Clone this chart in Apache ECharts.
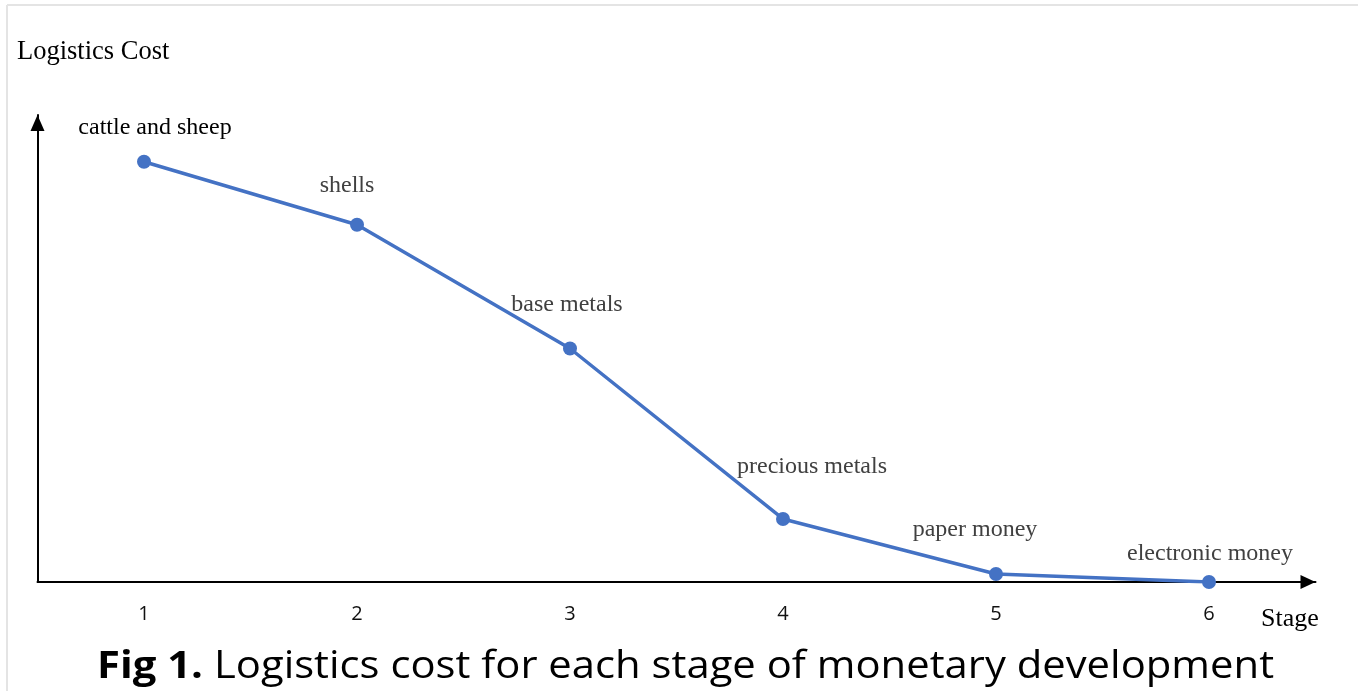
<!DOCTYPE html>
<html>
<head>
<meta charset="utf-8">
<script src="https://cdn.jsdelivr.net/npm/echarts@6/dist/echarts.min.js"></script>
<style>
html,body{margin:0;padding:0;background:#fff;}
#c{width:1358px;height:691px;}
</style>
</head>
<body>
<div id="c"></div>
<script>
// ---- data ----
const stages = ['1', '2', '3', '4', '5', '6'];
const costs = [90, 76.5, 50, 13.5, 1.7, 0];
const stageNames = ['cattle and sheep', 'shells', 'base metals', 'precious metals', 'paper money', 'electronic money'];
const yAxisName = 'Logistics Cost';
const xAxisName = 'Stage';
const figLabel = 'Fig 1.';
const figTitle = 'Logistics cost for each stage of monetary development';

// ---- layout (label offsets relative to points) ----
const labelOffsets = [[11, -34], [-10, -39], [-3, -44], [29, -52], [-21, -44], [1, -28]];
const labelColors = ['#000', '#404040', '#404040', '#404040', '#404040', '#404040'];

const serif = '"Liberation Serif", "Times New Roman", serif';
const sans = '"Open Sans", "Noto Sans", sans-serif';

const chart = echarts.init(document.getElementById('c'), null, {renderer: 'canvas'});
chart.setOption({
  animation: false,
  backgroundColor: '#fff',
  grid: {left: 37.5, width: 1278, top: 115, bottom: 109, containLabel: false},
  xAxis: {
    type: 'category',
    data: stages,
    boundaryGap: true,
    axisLine: {show: true, symbol: ['none', 'triangle'], symbolSize: [14, 15], symbolOffset: [0, -7.5], lineStyle: {color: '#000', width: 2}},
    axisTick: {show: false},
    axisLabel: {color: '#111', fontFamily: sans, fontSize: 20, margin: 22},
    splitLine: {show: false}
  },
  yAxis: {
    type: 'value',
    min: 0, max: 100,
    axisLine: {show: true, symbol: ['none', 'triangle'], symbolSize: [14, 16], symbolOffset: [0, -8], lineStyle: {color: '#000', width: 2}},
    axisTick: {show: false},
    axisLabel: {show: false},
    splitLine: {show: false}
  },
  series: [{
    type: 'line',
    data: costs.map((v, i) => ({
      value: v,
      label: {
        show: true,
        formatter: stageNames[i],
        position: 'inside',
        offset: labelOffsets[i],
        color: labelColors[i],
        fontFamily: serif,
        fontSize: 24
      }
    })),
    symbol: 'circle',
    symbolSize: 14,
    itemStyle: {color: '#4472C4'},
    lineStyle: {color: '#4472C4', width: 3.5},
    z: 3
  }],
  graphic: [
    {type: 'line', shape: {x1: 7, y1: 5, x2: 1358, y2: 5}, style: {stroke: '#e4e4e4', lineWidth: 2}, silent: true},
    {type: 'line', shape: {x1: 7, y1: 5, x2: 7, y2: 691}, style: {stroke: '#e4e4e4', lineWidth: 2}, silent: true},
    {type: 'text', left: 17, top: 39, style: {text: yAxisName, font: '26.5px ' + serif, fill: '#000'}},
    {type: 'text', left: 1261, top: 606, style: {text: xAxisName, font: '26px ' + serif, fill: '#000'}},
    {type: 'text', x: 97, y: 648, scaleX: 1.1, style: {
      text: '{b|' + figLabel + '}   {n|' + figTitle + '}',
      rich: {
        b: {font: 'bold 38px ' + sans, fill: '#000'},
        n: {font: '38px ' + sans, fill: '#000'}
      }
    }}
  ]
});
</script>
</body>
</html>
